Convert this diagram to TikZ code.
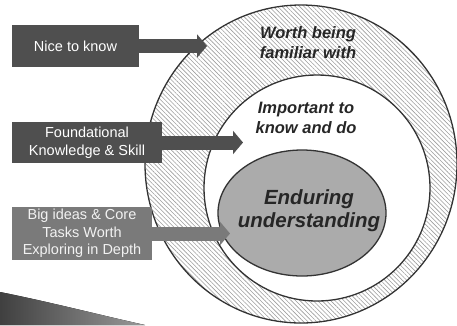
\documentclass[tikz,border=0pt]{standalone}
\usepackage{fontspec}
\setmainfont{Liberation Sans}
\usetikzlibrary{positioning, arrows.meta, patterns.meta}
\definecolor{boxdark}{HTML}{4F4F4F}
\definecolor{boxlight}{HTML}{7A7A7A}
\definecolor{coregray}{HTML}{ABABAB}
\begin{document}
\begin{tikzpicture}[
		x=1pt, y=-1pt,
		box/.style={rectangle, fill=boxdark, text=white, align=center, font=\fontsize{14.5}{17.5}\selectfont, inner sep=0pt},
		ring/.style={draw=black!80, line width=1.3pt},
		label/.style={align=center, font=\fontsize{16.5}{20}\selectfont\bfseries\itshape, text=black!85},
		arrow/.style={-{Triangle[length=10pt, width=23pt]}, line width=14pt, draw=boxdark}
		]
		
		% --- KHUNG ---
		\clip (0,0) rectangle (457,325);
		\fill[white] (0,0) rectangle (457,325);
		
		% --- CÁC VÒNG ---
		\draw[ring, pattern={Lines[angle=-45, distance=3.1pt, line width=0.6pt]}, pattern color=black!38] (301,164) ellipse [x radius=156, y radius=159];
		\draw[ring, fill=white] (317,188) ellipse [x radius=113, y radius=113];
		\draw[ring, fill=coregray] (302,213) ellipse [x radius=84, y radius=63];
		
		\node[label] (worth) at (308,43) {Worth being\\familiar with};
		\node[label] (important) at (306,118) {Important to\\know and do};
		\node[label, font=\fontsize{20.5}{23}\selectfont\bfseries\itshape] (enduring) at (309,211) {Enduring\\understanding};
		
		% --- CÁC HỘP BÊN TRÁI ---
		\node[box, minimum width=127pt, minimum height=42pt] (nice) at (75.5,46) {Nice to know};
		\node[box, minimum width=150pt, minimum height=41pt] (found) at (87,142.5) {Foundational\\Knowledge \& Skill};
		\node[box, fill=boxlight, text=white!90!gray, minimum width=140pt, minimum height=53pt] (big) at (82,233.5) {Big ideas \& Core\\Tasks Worth\\Exploring in Depth};
		
		% --- MŨI TÊN ---
		\coordinate (niceEnd) at (207,46);
		\coordinate (foundEnd) at (243,142.5);
		\coordinate (bigEnd) at (230,233.5);
		\draw[arrow] (nice.east) -- (niceEnd);
		\draw[arrow] (found.east) -- (foundEnd);
		\draw[arrow, draw=boxlight] (big.east) -- (bigEnd);
		
		% --- GÓC DƯỚI ---
		\fill[left color=black!75, right color=black!40] (0,292) .. controls (50,302) and (100,315) .. (145,325) -- (0,325) -- cycle;
		
	\end{tikzpicture}
\end{document}
